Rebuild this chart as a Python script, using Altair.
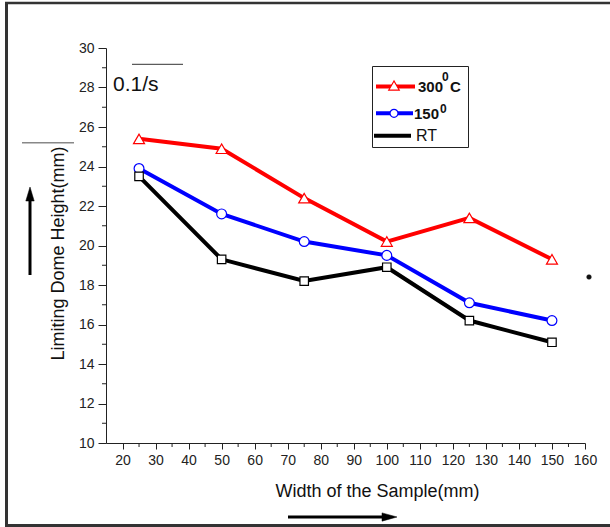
import altair as alt
import pandas as pd

# ---- data ----
widths = [25, 50, 75, 100, 125, 150]
ldh_300 = [25.4, 24.9, 22.4, 20.2, 21.4, 19.3]
ldh_150 = [23.9, 21.6, 20.2, 19.5, 17.1, 16.2]
ldh_rt = [23.5, 19.3, 18.2, 18.9, 16.2, 15.1]
series_names = ["300C", "150", "RT"]
series_colors = ["#ff0000", "#0000ff", "#000000"]
series_shapes = ["triangle-up", "circle", "square"]

major_x = list(range(20, 161, 10))
minor_x = list(range(25, 160, 10))
major_y = list(range(10, 31, 2))
minor_y = list(range(11, 30, 2))

FONT = "Liberation Sans"
W, H = 479, 395

rows = []
for name, vals in zip(series_names, [ldh_300, ldh_150, ldh_rt]):
    for w, v in zip(widths, vals):
        rows.append({"series": name, "width": w, "ldh": v})
df = pd.DataFrame(rows)

xscale = alt.Scale(domain=[15, 160], nice=False, zero=False)
yscale = alt.Scale(domain=[10, 30], nice=False, zero=False)


def make_xaxis():
    return alt.Axis(values=major_x, format="d", tickSize=6, labelPadding=4,
                    labelFontSize=14, labelFont=FONT, labelColor="#222",
                    domainColor="#222", tickColor="#222", grid=False,
                    labelOverlap=False, labelFlush=False,
                    title="Width of the Sample(mm)", titleFont=FONT,
                    titleFontSize=18, titleFontWeight="normal", titleColor="#111",
                    titleX=271, titleY=53, titleAlign="center",
                    titleBaseline="alphabetic")


def make_yaxis():
    return alt.Axis(values=major_y, format="d", tickSize=8, labelPadding=4,
                    labelFontSize=14, labelFont=FONT, labelColor="#222",
                    domainColor="#222", tickColor="#222", grid=False,
                    labelOverlap=False, labelFlush=False,
                    title="Limiting Dome Height(mm)", titleFont=FONT,
                    titleFontSize=18, titleFontWeight="normal", titleColor="#111",
                    titleX=-43, titleY=205, titleAngle=270, titleAlign="center",
                    titleBaseline="alphabetic")


lines = alt.Chart(df).mark_line().encode(
    x=alt.X("width:Q", scale=xscale, axis=make_xaxis()),
    y=alt.Y("ldh:Q", scale=yscale, axis=make_yaxis()),
    stroke=alt.Stroke("series:N", scale=alt.Scale(domain=series_names, range=series_colors), legend=None),
    strokeWidth=alt.StrokeWidth("series:N", scale=alt.Scale(domain=series_names, range=[4, 4, 3.5]), legend=None),
    detail="series:N",
    order=alt.Order("width:Q"),
)

points = alt.Chart(df).mark_point(filled=True, fill="white", opacity=1, strokeWidth=1.2).encode(
    x=alt.X("width:Q", scale=xscale, axis=make_xaxis()),
    y=alt.Y("ldh:Q", scale=yscale, axis=make_yaxis()),
    stroke=alt.Stroke("series:N", scale=alt.Scale(domain=series_names, range=series_colors), legend=None),
    shape=alt.Shape("series:N", scale=alt.Scale(domain=series_names, range=series_shapes), legend=None),
    size=alt.Size("series:N", scale=alt.Scale(domain=series_names, range=[121, 72, 90]), legend=None),
)

minor_x_ticks = alt.Chart(pd.DataFrame({"width": minor_x})).mark_rule(color="#222", strokeWidth=1).encode(
    x=alt.X("width:Q", scale=xscale, axis=make_xaxis()), y=alt.value(H), y2=alt.value(H + 4))
minor_y_ticks = alt.Chart(pd.DataFrame({"ldh": minor_y})).mark_rule(color="#222", strokeWidth=1).encode(
    y=alt.Y("ldh:Q", scale=yscale, axis=make_yaxis()), x=alt.value(-4), x2=alt.value(0))

one = pd.DataFrame({"a": [0]})


def rule(x1, x2, y1, y2, color="#222", width=1.0):
    return alt.Chart(one).mark_rule(color=color, strokeWidth=width).encode(
        x=alt.value(x1), x2=alt.value(x2), y=alt.value(y1), y2=alt.value(y2))


def text(s, x, y, size, weight="normal", align="left"):
    return alt.Chart(one).mark_text(text=s, font=FONT, fontSize=size, fontWeight=weight,
                                    align=align, baseline="alphabetic", color="#111").encode(
        x=alt.value(x), y=alt.value(y))


def sym(x, y, shape, size, stroke, fill, sw=1.2):
    return alt.Chart(one).mark_point(shape=shape, size=size, filled=True, fill=fill,
                                     stroke=stroke, strokeWidth=sw, opacity=1).encode(
        x=alt.value(x), y=alt.value(y))


# frame around the figure
frame = [
    rule(-99.5, -99.5, -45, 477.5, "#333", 3),
    rule(-101, 510, -45, -45, "#333", 2.5),
    rule(-101, 510, 477.5, 477.5, "#333", 3),
]

# legend box
legend_box = alt.Chart(one).mark_rect(fill="white", stroke="#222", strokeWidth=1).encode(
    x=alt.value(266.5), x2=alt.value(362.5), y=alt.value(18.5), y2=alt.value(99.5))
legend = [
    legend_box,
    rule(270, 309, 38.5, 38.5, series_colors[0], 4),
    sym(288, 37.5, "triangle-up", 110, series_colors[0], "white"),
    rule(270, 307, 65.3, 65.3, series_colors[1], 4),
    sym(288, 65.3, "circle", 64, series_colors[1], "white"),
    rule(268, 305, 87.7, 87.7, series_colors[2], 4),
    text("300", 312, 44, 15, "bold"),
    text("0", 336, 33, 12, "bold"),
    text("C", 344, 44, 15, "bold"),
    text("150", 308, 70.5, 15, "bold"),
    text("0", 334, 65, 12, "bold"),
    text("RT", 310, 93, 16),
]

annotations = [
    text("0.1/s", 7, 42.7, 21),
    rule(26, 77, 16.3, 16.3, "#333", 1),
    rule(-84, -32, 94.7, 94.7, "#888", 1.5),
    # vertical arrow
    rule(-76, -76, 152, 227, "#000", 3),
    sym(-76, 146, "M0,-1L-0.6,1L0.6,1Z", 196, "#000", "#000", 0.5),
    # horizontal arrow
    rule(182, 278, 469, 469, "#000", 3),
    sym(283.5, 469, "M1,0L-1,-0.55L-1,0.55Z", 225, "#000", "#000", 0.5),
    # stray dot
    sym(483, 229, "circle", 22, "#111", "#111", 0.5),
]

chart = alt.layer(
    lines, *frame, minor_x_ticks, minor_y_ticks, points, *legend, *annotations
).properties(
    width=W, height=H,
    autosize=alt.AutoSizeParams(type="none"),
    padding={"left": 106, "top": 48, "right": 25, "bottom": 84},
    background="white",
).configure_view(
    stroke=None
).configure_axis(
    labelFont=FONT, labelFontSize=14, labelColor="#222",
    domainColor="#222", tickColor="#222", grid=False,
).configure_axisX(
    tickSize=6, labelPadding=4,
).configure_axisY(
    tickSize=8, labelPadding=4,
)

chart.save("out.html", embed_options={"renderer": "svg", "actions": False})
